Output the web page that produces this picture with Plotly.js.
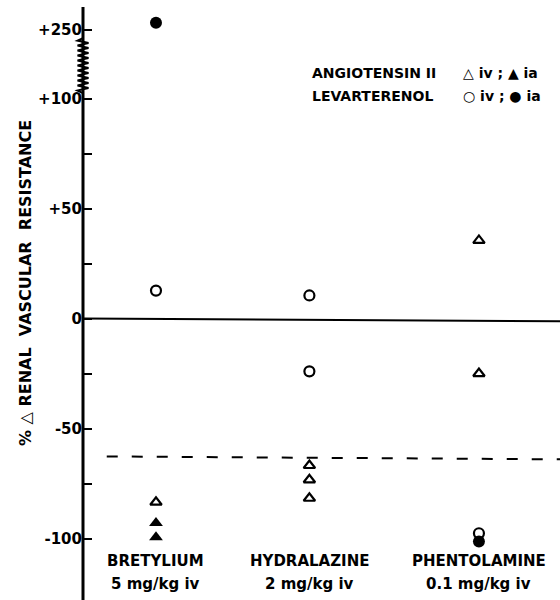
<!DOCTYPE html>
<html>
<head>
<meta charset="utf-8">
<script src="https://cdn.plot.ly/plotly-3.0.1.min.js"></script>
<style>html,body{margin:0;padding:0;background:#fff}#chart{width:560px;height:600px}</style>
</head>
<body>
<div id="chart"></div>
<script>
// ---- data ----
const groups = ['BRETYLIUM', 'HYDRALAZINE', 'PHENTOLAMINE'];
const doses = ['5 mg/kg iv', '2 mg/kg iv', '0.1 mg/kg iv'];

// Angiotensin II, iv (open triangles)
const angioIvGroup = [0, 1, 1, 1, 2, 2];
const angioIvValues = [-83.5, -66.8, -73.3, -81.7, 35.5, -25];
// Angiotensin II, ia (filled triangles)
const angioIaGroup = [0, 0];
const angioIaValues = [-93, -99.4];
// Levarterenol, iv (open circles)
const levIvGroup = [0, 1, 1, 2];
const levIvValues = [12.7, 10.5, -24, -97.6];
// Levarterenol, ia (filled circles)
const levIaGroup = [0, 2];
const levIaValues = [265, -101.4];

// reference lines (value at left end, value at right end)
const zeroLine = [0, -1.2];
const dashedLine = [-62.7, -64];

const yTickValues = [250, 100, 75, 50, 25, 0, -25, -50, -75, -100];
const yTickText = ['+250', '+100', '', '+50', '', '0', '', '-50', '', '-100'];

// ---- layout constants ----
const groupX = [0, 0.95, 2];
const xRange = [-0.452, 2.502];
const yRange = [-127.95, 144.8];
const breakAt = 100, breakScale = 0.209; // compressed axis above +100
const disp = v => v <= breakAt ? v : breakAt + (v - breakAt) * breakScale;

const black = '#000';
function pts(g, v) { return { x: g.map(i => groupX[i]), y: v.map(disp) }; }

const traces = [
  { type: 'scatter', mode: 'lines', x: [xRange[0], xRange[1]], y: zeroLine,
    line: { color: black, width: 2 }, hoverinfo: 'skip' },
  { type: 'scatter', mode: 'lines', x: [-0.305, xRange[1]], y: dashedLine,
    line: { color: black, width: 2, dash: '11px,14px' }, hoverinfo: 'skip' },
  Object.assign(pts(angioIvGroup, angioIvValues), { type: 'scatter', mode: 'markers', name: 'Angiotensin II iv',
    marker: { symbol: 'triangle-up-open', size: 10, color: black, line: { width: 2.2, color: black } } }),
  Object.assign(pts(angioIaGroup, angioIaValues), { type: 'scatter', mode: 'markers', name: 'Angiotensin II ia',
    marker: { symbol: 'triangle-up', size: 12, color: black } }),
  Object.assign(pts(levIvGroup, levIvValues), { type: 'scatter', mode: 'markers', name: 'Levarterenol iv',
    marker: { symbol: 'circle-open', size: 10, color: black, line: { width: 2.2, color: black } } }),
  Object.assign(pts(levIaGroup, levIaValues), { type: 'scatter', mode: 'markers', name: 'Levarterenol ia',
    marker: { symbol: 'circle', size: 12, color: black } })
];

// zigzag break symbol on the axis
const plotL = 83, plotW = 477;
const pxToPaperX = px => (px - plotL) / plotW;
const pxToY = py => (318.5 - py) / 2.2;
let zz = '';
const nSeg = 22, zTop = 38, zBot = 93;
for (let i = 0; i <= nSeg; i++) {
  const py = zTop + (zBot - zTop) * i / nSeg;
  const px = (i === 0 || i === nSeg) ? 83 : (i % 2 ? 77.5 : 88.5);
  zz += (i === 0 ? 'M ' : ' L ') + pxToPaperX(px).toFixed(4) + ',' + pxToY(py).toFixed(3);
}

const font = 'DejaVu Sans, sans-serif';
const annotations = [];
groups.forEach((g, i) => {
  annotations.push({ xref: 'x', yref: 'y', x: groupX[i], y: pxToY(561), text: g, showarrow: false,
    xanchor: 'center', yanchor: 'middle', font: { family: font, size: 15, color: black, weight: 'bold' } });
  annotations.push({ xref: 'x', yref: 'y', x: groupX[i], y: pxToY(584), text: doses[i], showarrow: false,
    xanchor: 'center', yanchor: 'middle', font: { family: font, size: 15, color: black, weight: 'bold' } });
});
const legFont = { family: font, size: 14, color: black, weight: 'bold' };
annotations.push(
  { xref: 'paper', yref: 'paper', x: pxToPaperX(310), y: 1 - 73 / 600, text: 'ANGIOTENSIN II', showarrow: false, xanchor: 'left', yanchor: 'middle', font: legFont },
  { xref: 'paper', yref: 'paper', x: pxToPaperX(310), y: 1 - 96 / 600, text: 'LEVARTERENOL', showarrow: false, xanchor: 'left', yanchor: 'middle', font: legFont },
  { xref: 'paper', yref: 'paper', x: pxToPaperX(461), y: 1 - 73 / 600, text: '\u25B3 iv ; \u25B2 ia', showarrow: false, xanchor: 'left', yanchor: 'middle', font: legFont },
  { xref: 'paper', yref: 'paper', x: pxToPaperX(461), y: 1 - 96 / 600, text: '\u25CB iv ; \u25CF ia', showarrow: false, xanchor: 'left', yanchor: 'middle', font: legFont },
  { xref: 'paper', yref: 'paper', x: pxToPaperX(25), y: 1 - 283 / 600, text: '% \u25B3 RENAL  VASCULAR  RESISTANCE', textangle: -90,
    showarrow: false, xanchor: 'center', yanchor: 'middle', font: { family: font, size: 16, color: black, weight: 'bold' } }
);

const layout = {
  width: 560, height: 600,
  margin: { l: plotL, r: 0, t: 0, b: 0 },
  paper_bgcolor: '#fff', plot_bgcolor: '#fff',
  showlegend: false,
  xaxis: { range: xRange, showgrid: false, zeroline: false, showline: false, showticklabels: false, ticks: '' },
  yaxis: {
    range: yRange, showgrid: false, zeroline: false, showline: false,
    tickmode: 'array', tickvals: yTickValues.map(disp), ticktext: yTickText,
    ticks: 'inside', ticklen: 9, tickwidth: 2, tickcolor: black,
    tickfont: { family: font, size: 15, color: black, weight: 'bold' }
  },
  shapes: [
    { type: 'line', xref: 'paper', yref: 'y', x0: 0, x1: 0, y0: yRange[0], y1: pxToY(7), line: { color: black, width: 3 } },
    { type: 'path', xref: 'paper', yref: 'y', path: zz, line: { color: black, width: 2 } }
  ],
  annotations: annotations
};

Plotly.newPlot('chart', traces, layout, { staticPlot: true, displayModeBar: false });
</script>
</body>
</html>
